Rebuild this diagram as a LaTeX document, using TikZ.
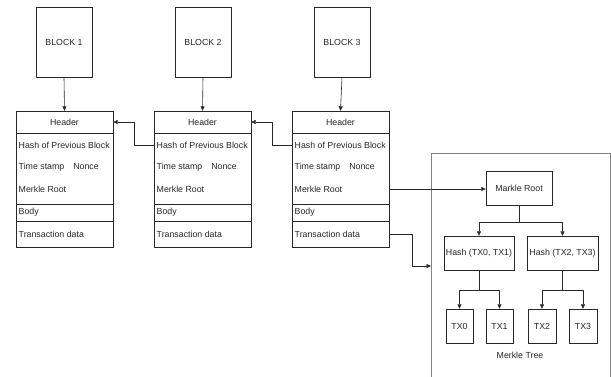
\documentclass[tikz,border=0pt]{standalone}
\usepackage{fontspec}
\setmainfont{Liberation Sans}
\usetikzlibrary{arrows.meta,shadows}
\definecolor{ink}{RGB}{40,40,40}
\definecolor{frame}{RGB}{130,130,130}
\begin{document}
\begin{tikzpicture}[x=1pt,y=-1pt,
  every node/.style={font=\fontsize{8.8}{10}\selectfont, text=ink},
  shad/.style={drop shadow={shadow xshift=1.2pt, shadow yshift=-1.2pt, opacity=0.25}},
  blockbox/.style={draw=ink, fill=white, shad, minimum width=56pt, minimum height=70pt, inner sep=0pt},
  tablebox/.style={draw=ink, fill=white, shad, minimum width=97pt, minimum height=136pt, inner sep=0pt},
  hdrow/.style={minimum width=97pt, minimum height=22pt, inner sep=0pt},
  row/.style={anchor=west, inner xsep=2.5pt, inner ysep=2pt},
  mbox/.style={draw=ink, fill=white, shad, inner sep=0pt, minimum height=34pt},
  arr/.style={draw=ink, line width=0.6pt, -{Triangle[length=4.5pt,width=4pt]}},
  ln/.style={draw=ink, line width=0.6pt}
]
\useasboundingbox (0,0) rectangle (611,377);

% container of merkle tree
\draw[frame, line width=0.7pt] (431,377) -- (431,153) -- (610,153) -- (610,377);
\node (mtlabel) at (520,355) {Merkle Tree};

% blocks and tables
\foreach \i/\L/\B in {1/16/36, 2/154/175, 3/292/314}{
  \node[blockbox] (b\i) at (\B+28,42) {BLOCK \i};
  \node[tablebox] (t\i) at (\L+48.5,179) {};
  \node[hdrow] (hd\i) at (\L+48.5,122) {Header};
  \node[row] (hp\i) at (\L,145) {Hash of Previous Block};
  \node[row] (ts\i) at (\L,167) {Time stamp\hspace{9pt}Nonce};
  \node[row] (mr\i) at (\L,189) {Merkle Root};
  \draw[ln] (\L,133) -- (\L+97,133);
  \draw[ln] (\L,204) -- (\L+97,204);
  \draw[ln] (\L,221) -- (\L+97,221);
  \node[row] (bd\i) at (\L,212.5) {Body};
  \node[row] (td\i) at (\L,234) {Transaction data};
  \coordinate (mre\i) at (\L+97,189);
  \coordinate (tde\i) at (\L+97,234);
  \draw[arr] (b\i.south) -- (hd\i.north);
}

% previous-block links
\draw[arr] (hp2.west) -- ++(-20,0) |- (hd1.east);
\draw[arr] (hp3.west) -- ++(-20,0) |- (hd2.east);

% merkle tree nodes
\node[mbox, minimum width=66pt] (mroot) at (519,188) {Markle Root};
\node[mbox, minimum width=70pt] (hA) at (479,253) {Hash (TX0, TX1)};
\node[mbox, minimum width=71pt] (hB) at (562.5,253) {Hash (TX2, TX3)};
\node[mbox, minimum width=27pt] (tx0) at (459.5,326) {TX0};
\node[mbox, minimum width=27pt] (tx1) at (499.5,326) {TX1};
\node[mbox, minimum width=28pt] (tx2) at (542,326) {TX2};
\node[mbox, minimum width=28pt] (tx3) at (583,326) {TX3};

% links into merkle tree
\draw[arr] (mre3) -- (mre3 -| mroot.west);
\coordinate (mtin) at (431,266);
\draw[arr] (tde3) -- ++(23,0) |- (mtin);

% tree connectors
\draw[arr] (mroot.south) -- ++(0,17) -| (hA.north);
\draw[arr] (mroot.south) -- ++(0,17) -| (hB.north);
\draw[arr] (hA.south) -- ++(0,20) -| (tx0.north);
\draw[arr] (hA.south) -- ++(0,20) -| (tx1.north);
\draw[arr] (hB.south) -- ++(0,20) -| (tx2.north);
\draw[arr] (hB.south) -- ++(0,20) -| (tx3.north);
\end{tikzpicture}
\end{document}
